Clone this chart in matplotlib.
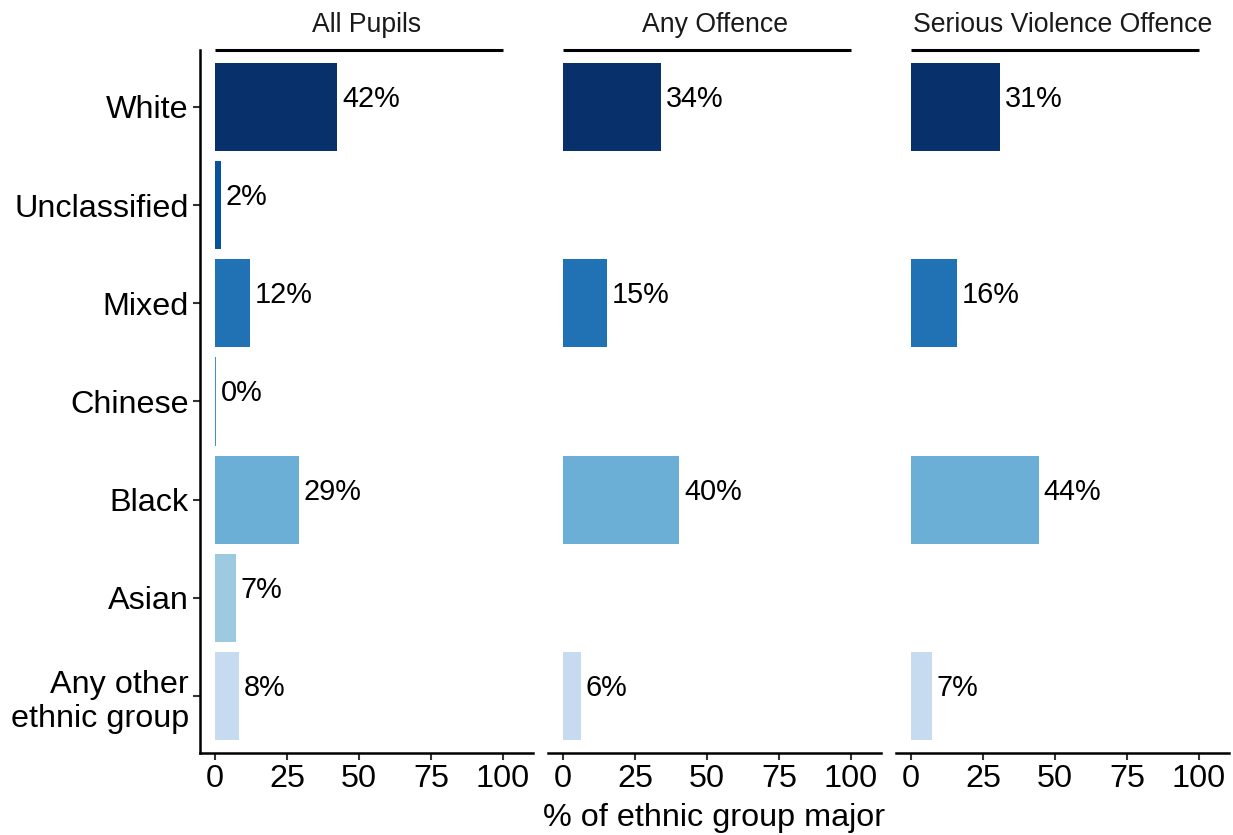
import numpy as np
import matplotlib
matplotlib.use("Agg")
import matplotlib.pyplot as plt

plt.rcParams['font.family'] = ['Liberation Sans', 'DejaVu Sans']

categories = ["White", "Unclassified", "Mixed", "Chinese", "Black", "Asian",
              "Any other\nethnic group"]
panels = ["All Pupils", "Any Offence", "Serious Violence Offence"]
all_pupils = [42.4, 2.1, 12.2, 0.3, 29.2, 7.3, 8.3]
any_offence = [34.0, np.nan, 15.3, np.nan, 40.3, np.nan, 6.2]
serious_violence = [30.9, np.nan, 16.0, np.nan, 44.4, np.nan, 7.3]
series = [all_pupils, any_offence, serious_violence]
colors = ["#08306b", "#08519c", "#2171b5", "#4292c6", "#6baed6", "#9ecae1", "#c6dbef"]
xticks = [0, 25, 50, 75, 100]
xlabel = "% of ethnic group major"

W, H = 1233, 835
fig = plt.figure(figsize=(W / 100, H / 100), dpi=100)

lefts = [200, 548, 896]
pw = 333
top, bottom = 50, 753
ypos = np.arange(len(categories))
axis_fs = 23.3

for i, (name, vals) in enumerate(zip(panels, series)):
    ax = fig.add_axes([lefts[i] / W, 1 - bottom / H, pw / W, (bottom - top) / H])
    vals = np.array(vals, dtype=float)
    for j, v in enumerate(vals):
        if np.isnan(v):
            continue
        ax.barh(ypos[j], v, height=0.9, color=colors[j], edgecolor='none')
        ax.annotate(f"{round(v)}%", xy=(v, ypos[j]), xytext=(3.5, 0),
                    textcoords='offset points', ha='left', va='baseline',
                    fontsize=20.8, color='black')
    ax.set_xlim(-5.2, 110.4)
    ax.set_ylim(len(categories) - 0.42, -0.58)
    ax.set_xticks(xticks)
    ax.set_xticklabels([str(t) for t in xticks], fontsize=axis_fs, color='black')
    for s in ['top', 'right']:
        ax.spines[s].set_visible(False)
    ax.spines['bottom'].set_linewidth(1.8)
    ax.tick_params(axis='x', length=5, width=1.5, color='#333333', pad=3)
    if i == 0:
        ax.set_yticks(ypos)
        ax.set_yticklabels(categories, fontsize=axis_fs, color='black',
                           multialignment='right')
        ax.spines['left'].set_linewidth(1.8)
        ax.tick_params(axis='y', length=5, width=1.5, color='#333333', pad=3)
    else:
        ax.set_yticks([])
        ax.spines['left'].set_visible(False)
    # strip line and title
    ax.plot([0, 100], [1.0, 1.0], transform=ax.get_xaxis_transform(),
            color='black', lw=2.2, clip_on=False, solid_capstyle='butt')
    ax.text(0.5, 1 + 25 / (bottom - top), name, transform=ax.transAxes,
            ha='center', va='center', fontsize=19.2, color='#1a1a1a')

fig.text((lefts[1] + pw / 2) / W, 1 - 818 / H, xlabel, ha='center', va='center',
         fontsize=axis_fs, color='black')

fig.savefig("out.png", dpi=100)
